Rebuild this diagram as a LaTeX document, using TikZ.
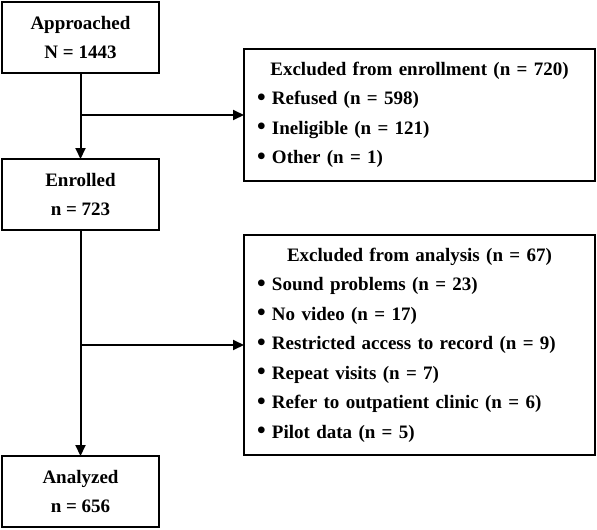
\documentclass[tikz,border=0pt]{standalone}
\usepackage{fontspec}
\setmainfont{Liberation Serif}
\usetikzlibrary{arrows.meta, positioning}

\newcommand{\exclitem}[1]{\raisebox{-0.05ex}{\scalebox{1.3}{\textbullet}}\ #1\par}

\begin{document}
\begin{tikzpicture}[
    x=1pt, y=-1pt,
    flowbox/.style={
        draw,
        line width=2pt,
        outer sep=0pt,
        minimum width=157pt,
        minimum height=71pt,
        align=center,
        font=\fontsize{19}{29.5}\selectfont\bfseries
    },
    exclbox/.style={
        draw,
        line width=2pt,
        outer sep=0pt,
        text width=325pt,
        inner xsep=13pt,
        inner ysep=0pt,
        font=\fontsize{19}{29.5}\selectfont\bfseries
    },
    flowarrow/.style={
        -{Triangle[length=11pt, width=10pt]},
        line width=2pt
    }
]
    \useasboundingbox (0,0) rectangle (597,530);

    \node[flowbox, anchor=north west] (approached) at (2,2) {Approached\\N = 1443};
    \node[flowbox, below=86pt of approached] (enrolled) {Enrolled\\n = 723};
    \node[flowbox, below=226pt of enrolled] (analyzed) {Analyzed\\n = 656};

    \node[exclbox, anchor=north west, minimum height=132pt] (exclenroll) at (244,49) {%
        \centering Excluded from enrollment (n = 720)\par
        \raggedright
        \exclitem{Refused (n = 598)}
        \exclitem{Ineligible (n = 121)}
        \exclitem{Other (n = 1)}};
    \node[exclbox, anchor=north west, minimum height=220pt] (exclanalysis) at (244,235) {%
        \centering Excluded from analysis (n = 67)\par
        \raggedright
        \exclitem{Sound problems (n = 23)}
        \exclitem{No video (n = 17)}
        \exclitem{Restricted access to record (n = 9)}
        \exclitem{Repeat visits (n = 7)}
        \exclitem{Refer to outpatient clinic (n = 6)}
        \exclitem{Pilot data (n = 5)}};

    \draw[flowarrow] (approached) -- (enrolled);
    \draw[flowarrow] (enrolled) -- (analyzed);
    \draw[flowarrow] (approached.south |- exclenroll.west) -- (exclenroll.west);
    \draw[flowarrow] (enrolled.south |- exclanalysis.west) -- (exclanalysis.west);
\end{tikzpicture}
\end{document}
